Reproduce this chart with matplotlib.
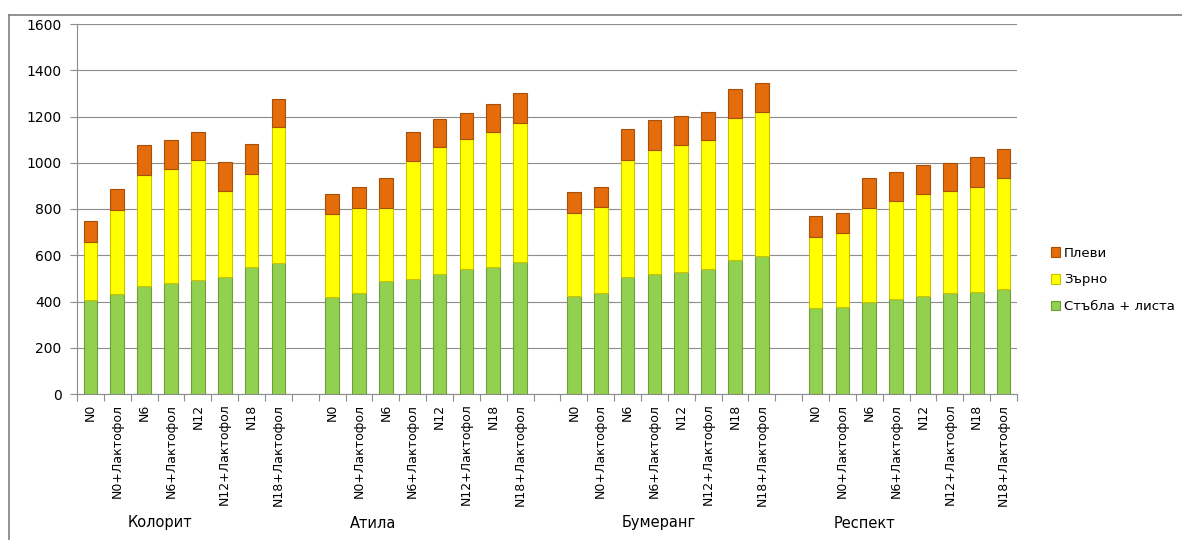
import matplotlib
matplotlib.use("Agg")
import matplotlib.pyplot as plt
import numpy as np

plt.rcParams['font.family'] = ['DejaVu Sans']

varieties = ["Колорит", "Атила", "Бумеранг", "Респект"]
treatments = ["N0", "N0+Лактофол", "N6", "N6+Лактофол", "N12", "N12+Лактофол", "N18", "N18+Лактофол"]

# Стъбла + листа (stems + leaves)
stems = [
    [405, 433, 469, 479, 495, 508, 550, 565],
    [419, 435, 488, 498, 520, 542, 549, 570],
    [425, 438, 504, 521, 527, 539, 579, 596],
    [370, 378, 400, 409, 425, 435, 439, 455],
]
# Зърно (grain)
grain = [
    [253, 362, 480, 496, 516, 368, 403, 589],
    [358, 368, 315, 509, 548, 559, 582, 600],
    [359, 369, 510, 533, 549, 559, 613, 623],
    [309, 317, 406, 424, 439, 441, 458, 478],
]
# Плеви (chaff)
chaff = [
    [90, 91, 128, 125, 124, 129, 128, 122],
    [87, 90, 129, 124, 123, 115, 125, 130],
    [90, 88, 134, 130, 124, 122, 125, 127],
    [89, 89, 130, 129, 125, 124, 126, 125],
]

yticks = [0, 200, 400, 600, 800, 1000, 1200, 1400, 1600]

col_green = "#92D050"
col_yellow = "#FFFF00"
col_orange = "#E46C0A"
edge_green = "#6E9E3A"
edge_yellow = "#C9C400"
edge_orange = "#A84F08"

fig = plt.figure(figsize=(11.82, 5.40), dpi=100)
W, H = 1182, 540
ax = fig.add_axes([77 / W, 1 - 394 / H, (1017 - 77) / W, (394 - 24) / H])

n_per = len(treatments)
xs, lab, s_all, g_all, c_all = [], [], [], [], []
for gi in range(len(varieties)):
    for ti in range(n_per):
        xs.append(gi * (n_per + 1) + ti)
        lab.append(treatments[ti])
        s_all.append(stems[gi][ti])
        g_all.append(grain[gi][ti])
        c_all.append(chaff[gi][ti])
xs = np.array(xs, dtype=float)
s_all = np.array(s_all)
g_all = np.array(g_all)
c_all = np.array(c_all)

bw = 0.51
b1 = ax.bar(xs, s_all, width=bw, color=col_green, edgecolor=edge_green, linewidth=0.8,
            label="Стъбла + листа", zorder=3)
b2 = ax.bar(xs, g_all, width=bw, bottom=s_all, color=col_yellow, edgecolor=edge_yellow,
            linewidth=0.8, label="Зърно", zorder=3)
b3 = ax.bar(xs, c_all, width=bw, bottom=s_all + g_all, color=col_orange, edgecolor=edge_orange,
            linewidth=0.8, label="Плеви", zorder=3)

n_slots = len(varieties) * (n_per + 1) - 1
ax.set_xlim(-0.5, n_slots - 0.5)
ax.set_ylim(0, 1600)
ax.set_yticks(yticks)
ax.set_yticklabels([str(v) for v in yticks], fontsize=10)
ax.yaxis.grid(True, color="#8C8C8C", linewidth=0.8, zorder=0)
ax.set_axisbelow(True)

ax.set_xticks(xs)
ax.set_xticklabels(lab, rotation=90, fontsize=9, va="top", ha="center")
ax.set_xticks(np.arange(-0.5, n_slots, 1.0), minor=True)
ax.tick_params(axis="x", which="major", length=0, pad=7)
ax.tick_params(axis="x", which="minor", length=5, color="#8C8C8C", width=0.8)
ax.tick_params(axis="y", length=5, color="#8C8C8C", width=0.8, pad=6)

for sp in ["top", "right"]:
    ax.spines[sp].set_visible(False)
for sp in ["left", "bottom"]:
    ax.spines[sp].set_color("#8C8C8C")
    ax.spines[sp].set_linewidth(0.8)

# group labels
group_px = [160, 373, 659, 864]
for name, px in zip(varieties, group_px):
    fig.text(px / W, 1 - 523 / H, name, ha="center", va="center", fontsize=10.5)

# legend
fig.legend(handles=[b3, b2, b1], labels=["Плеви", "Зърно", "Стъбла + листа"],
           loc="center left", bbox_to_anchor=(1044 / W, 1 - 280 / H), frameon=False,
           fontsize=9.5, handlelength=0.7, handleheight=0.7, handletextpad=0.3,
           labelspacing=1.05, borderpad=0)

# outer chart frame
fig.add_artist(plt.Line2D([9 / W, 1], [1 - 15 / H, 1 - 15 / H], color="#7F7F7F", linewidth=1.2,
                          transform=fig.transFigure))
fig.add_artist(plt.Line2D([9 / W, 9 / W], [0, 1 - 15 / H], color="#7F7F7F", linewidth=1.2,
                          transform=fig.transFigure))

fig.savefig("out.png", dpi=100)
